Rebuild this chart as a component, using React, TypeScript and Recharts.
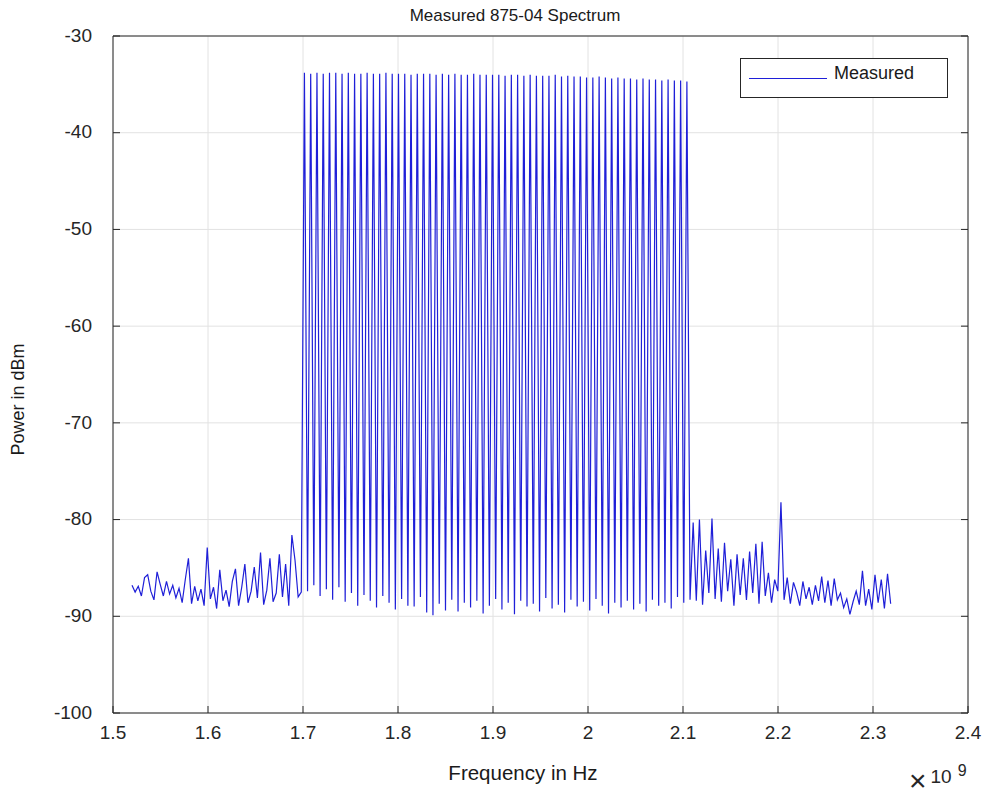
import { CartesianGrid, Line, LineChart, XAxis, YAxis } from "recharts";

// sweep grid of the analyzer (Hz)
const sweepStartHz = 1.52e9;
const sweepStepHz = 3.3e6;

// noise floor below the comb (1.52 - 1.70 GHz), dBm
const leftNoise = [
  -86.8, -87.5, -86.9, -87.9, -86.0, -85.7, -87.4, -88.3, -85.4, -86.7,
  -87.9, -86.4, -87.7, -86.8, -88.1, -87.1, -88.6, -86.2, -84.0, -88.7,
  -86.9, -88.4, -87.2, -88.9, -82.9, -88.2, -87.0, -89.2, -85.2, -88.4,
  -87.3, -89.0, -86.4, -85.1, -88.9, -87.0, -84.6, -88.6, -87.4, -84.9,
  -88.1, -83.4, -88.8, -87.3, -84.0, -88.5, -87.6, -83.6, -88.0, -84.6,
  -88.9, -81.6, -84.2, -88.0, -87.5,
];

// comb lines 1.70 - 2.10 GHz: tops and the dips between them
const combPeaks = [
  -33.8, -33.9, -33.8, -33.9, -33.8, -33.8, -33.9, -33.8, -33.9, -33.9,
  -33.8, -33.9, -33.9, -33.8, -33.9, -33.9, -33.9, -34.0, -33.9, -33.9,
  -33.9, -34.0, -33.9, -34.0, -33.9, -34.0, -34.0, -33.9, -34.0, -34.0,
  -34.0, -34.0, -34.1, -34.0, -34.0, -34.1, -34.0, -34.1, -34.1, -34.1,
  -34.0, -34.2, -34.1, -34.2, -34.2, -34.3, -34.3, -34.2, -34.3, -34.4,
  -34.3, -34.4, -34.4, -34.5, -34.4, -34.5, -34.5, -34.6, -34.5, -34.6,
  -34.6, -34.7,
];
const combValleys = [
  -87.4, -86.8, -87.9, -87.2, -88.3, -87.0, -88.5, -87.6, -88.9, -87.8,
  -88.4, -89.1, -87.9, -88.6, -89.3, -88.2, -88.9, -89.0, -88.0, -89.6,
  -89.9, -88.7, -89.4, -88.3, -89.5, -88.6, -89.1, -88.4, -89.7, -88.9,
  -88.2, -89.3, -88.6, -89.8, -88.4, -89.0, -88.7, -89.5, -88.1, -89.2,
  -88.8, -89.6, -88.3, -89.0, -88.5, -89.4, -88.2, -88.9, -89.7, -88.6,
  -89.1, -88.4, -89.3, -88.7, -89.5, -88.3, -88.9, -88.6, -89.2, -88.0,
  -88.6, -88.3,
];

// noise above the comb (2.11 - 2.32 GHz)
const rightNoise = [
  -80.3, -88.4, -80.0, -88.8, -83.2, -87.6, -79.9, -88.2, -83.0, -88.5,
  -82.4, -87.4, -84.1, -88.9, -83.6, -87.8, -84.0, -88.3, -83.3, -87.6,
  -82.5, -88.7, -82.3, -87.9, -85.5, -88.6, -86.2, -87.4, -78.2, -88.3,
  -86.0, -88.7, -86.5, -87.5, -88.9, -86.4, -88.2, -87.0, -88.8, -86.8,
  -88.4, -85.9, -88.6, -86.3, -88.9, -86.1, -88.3, -87.6, -89.1, -88.2,
  -89.8, -88.5, -87.4, -88.8, -85.3, -88.9, -87.2, -89.3, -85.7, -88.6,
  -86.2, -89.2, -85.6, -88.7,
];

const xTicks = [1.5e9, 1.6e9, 1.7e9, 1.8e9, 1.9e9, 2.0e9, 2.1e9, 2.2e9, 2.3e9, 2.4e9];
const yTicks = [-100, -90, -80, -70, -60, -50, -40, -30];

const levels = [
  ...leftNoise,
  ...combPeaks.flatMap((p, k) => [p, combValleys[k]]),
  ...rightNoise,
];
const spectrum = levels.map((dbm, i) => ({ hz: sweepStartHz + i * sweepStepHz, dbm }));

const W = 985;
const H = 798;
const PLOT_LEFT = 113;
const PLOT_TOP = 36;
const PLOT_RIGHT = 968;
const PLOT_BOTTOM = 713;
const TICK = 7;
const AXIS = "#262626";
const TRACE = "#1f1fd8";
const FONT = '"Liberation Sans", Arial, Helvetica, sans-serif';

const fmtGHz = (v: number) => String(parseFloat((v / 1e9).toFixed(1)));

function BottomTick({ x, payload }: any) {
  return (
    <g>
      <line x1={x} x2={x} y1={PLOT_BOTTOM} y2={PLOT_BOTTOM - TICK} stroke={AXIS} />
      <text x={x} y={PLOT_BOTTOM + 13} dy="0.71em" textAnchor="middle" fill={AXIS} fontSize={19} fontFamily={FONT}>
        {fmtGHz(payload.value)}
      </text>
    </g>
  );
}

function TopTick({ x }: any) {
  return <line x1={x} x2={x} y1={PLOT_TOP} y2={PLOT_TOP + TICK} stroke={AXIS} />;
}

function LeftTick({ y, payload }: any) {
  return (
    <g>
      <line x1={PLOT_LEFT} x2={PLOT_LEFT + TICK} y1={y} y2={y} stroke={AXIS} />
      <text x={PLOT_LEFT - 21} y={y} dy="0.3em" textAnchor="end" fill={AXIS} fontSize={19} fontFamily={FONT}>
        {payload.value}
      </text>
    </g>
  );
}

function RightTick({ y }: any) {
  return <line x1={PLOT_RIGHT} x2={PLOT_RIGHT - TICK} y1={y} y2={y} stroke={AXIS} />;
}

export default function App() {
  return (
    <div style={{ position: "absolute", left: 0, top: 0, width: W, height: H, background: "#fff", fontFamily: FONT }}>
      <LineChart
        width={W}
        height={H}
        data={spectrum}
        margin={{ top: PLOT_TOP - 10, left: PLOT_LEFT - 60, right: W - PLOT_RIGHT - 10, bottom: H - PLOT_BOTTOM - 40 }}
      >
        <CartesianGrid stroke="#e2e2e2" />
        <XAxis
          dataKey="hz"
          type="number"
          domain={[1.5e9, 2.4e9]}
          ticks={xTicks}
          height={40}
          stroke={AXIS}
          tickLine={false}
          tick={<BottomTick />}
          interval={0}
        />
        <XAxis
          xAxisId="top"
          orientation="top"
          type="number"
          domain={[1.5e9, 2.4e9]}
          ticks={xTicks}
          height={10}
          stroke={AXIS}
          tickLine={false}
          tick={<TopTick />}
          interval={0}
          allowDataOverflow
        />
        <YAxis
          type="number"
          domain={[-100, -30]}
          ticks={yTicks}
          width={60}
          stroke={AXIS}
          tickLine={false}
          tick={<LeftTick />}
          interval={0}
        />
        <YAxis
          yAxisId="right"
          orientation="right"
          type="number"
          domain={[-100, -30]}
          ticks={yTicks}
          width={10}
          stroke={AXIS}
          tickLine={false}
          tick={<RightTick />}
          interval={0}
          allowDataOverflow
        />
        <Line
          dataKey="dbm"
          type="linear"
          stroke={TRACE}
          strokeWidth={1.2}
          dot={false}
          isAnimationActive={false}
        />
      </LineChart>

      <div style={{ position: "absolute", left: 315, width: 400, top: 6, textAlign: "center", fontSize: 17, color: "#1a1a1a" }}>
        Measured 875-04 Spectrum
      </div>
      <div style={{ position: "absolute", left: 323, width: 400, top: 761, textAlign: "center", fontSize: 20.5, color: "#1a1a1a" }}>
        Frequency in Hz
      </div>
      <div
        style={{
          position: "absolute",
          left: 18 - 100,
          top: 400 - 11,
          width: 200,
          textAlign: "center",
          fontSize: 18,
          color: "#1a1a1a",
          transform: "rotate(-90deg)",
        }}
      >
        Power in dBm
      </div>
      <div style={{ position: "absolute", left: 909, top: 762, color: AXIS, whiteSpace: "nowrap", lineHeight: 1 }}>
        <span style={{ fontSize: 30, position: "relative", top: 4 }}>×</span>
        <span style={{ fontSize: 19, position: "relative", top: -4, marginLeft: 4 }}>10</span>
        <span style={{ fontSize: 16, position: "relative", top: -11, marginLeft: 6 }}>9</span>
      </div>

      <div
        style={{
          position: "absolute",
          left: 740,
          top: 58,
          width: 206,
          height: 38,
          border: `1px solid ${AXIS}`,
          background: "#fff",
        }}
      >
        <div style={{ position: "absolute", left: 8, top: 19, width: 78, height: 1, background: TRACE }} />
        <div style={{ position: "absolute", left: 93, top: 4, fontSize: 18, color: "#1a1a1a" }}>Measured</div>
      </div>
    </div>
  );
}
